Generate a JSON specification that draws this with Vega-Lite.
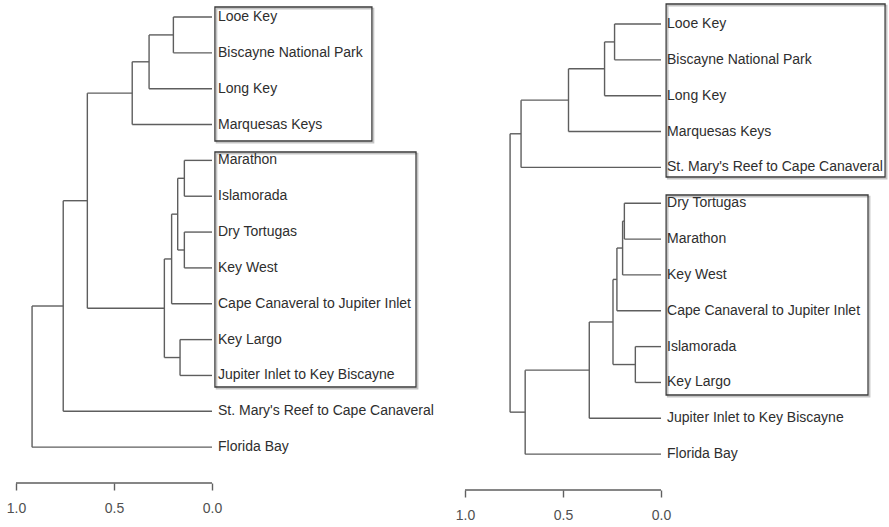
{
  "$schema": "https://vega.github.io/schema/vega-lite/v6.json",
  "padding": 0,
  "autosize": {"type": "pad"},
  "spacing": 9,
  "background": "white",
  "config": {
    "view": {"stroke": null},
    "font": "Liberation Sans",
    "axis": {"labelFont": "Liberation Sans", "labelFontSize": 14, "labelColor": "#505050", "tickColor": "#606060", "tickWidth": 1.4, "tickSize": 7, "labelPadding": 11, "domain": false, "grid": false, "title": null}
  },
  "datasets": {
    "left_segments": [
      {"x": 0.197, "x2": 0.197, "y": 1, "y2": 2}, {"x": 0, "x2": 0.197, "y": 1, "y2": 1}, {"x": 0, "x2": 0.197, "y": 2, "y2": 2},
      {"x": 0.321, "x2": 0.321, "y": 1.5, "y2": 3}, {"x": 0.197, "x2": 0.321, "y": 1.5, "y2": 1.5}, {"x": 0, "x2": 0.321, "y": 3, "y2": 3},
      {"x": 0.407, "x2": 0.407, "y": 2.25, "y2": 4}, {"x": 0.321, "x2": 0.407, "y": 2.25, "y2": 2.25}, {"x": 0, "x2": 0.407, "y": 4, "y2": 4},
      {"x": 0.141, "x2": 0.141, "y": 5, "y2": 6}, {"x": 0, "x2": 0.141, "y": 5, "y2": 5}, {"x": 0, "x2": 0.141, "y": 6, "y2": 6},
      {"x": 0.141, "x2": 0.141, "y": 7, "y2": 8}, {"x": 0, "x2": 0.141, "y": 7, "y2": 7}, {"x": 0, "x2": 0.141, "y": 8, "y2": 8},
      {"x": 0.175, "x2": 0.175, "y": 5.5, "y2": 7.5}, {"x": 0.141, "x2": 0.175, "y": 5.5, "y2": 5.5}, {"x": 0.141, "x2": 0.175, "y": 7.5, "y2": 7.5},
      {"x": 0.206, "x2": 0.206, "y": 6.5, "y2": 9}, {"x": 0.175, "x2": 0.206, "y": 6.5, "y2": 6.5}, {"x": 0, "x2": 0.206, "y": 9, "y2": 9},
      {"x": 0.163, "x2": 0.163, "y": 10, "y2": 11}, {"x": 0, "x2": 0.163, "y": 10, "y2": 10}, {"x": 0, "x2": 0.163, "y": 11, "y2": 11},
      {"x": 0.243, "x2": 0.243, "y": 7.75, "y2": 10.5}, {"x": 0.206, "x2": 0.243, "y": 7.75, "y2": 7.75}, {"x": 0.163, "x2": 0.243, "y": 10.5, "y2": 10.5},
      {"x": 0.636, "x2": 0.636, "y": 3.125, "y2": 9.125}, {"x": 0.407, "x2": 0.636, "y": 3.125, "y2": 3.125}, {"x": 0.243, "x2": 0.636, "y": 9.125, "y2": 9.125},
      {"x": 0.759, "x2": 0.759, "y": 6.125, "y2": 12}, {"x": 0.636, "x2": 0.759, "y": 6.125, "y2": 6.125}, {"x": 0, "x2": 0.759, "y": 12, "y2": 12},
      {"x": 0.918, "x2": 0.918, "y": 9.0625, "y2": 13}, {"x": 0.759, "x2": 0.918, "y": 9.0625, "y2": 9.0625}, {"x": 0, "x2": 0.918, "y": 13, "y2": 13}
    ],
    "right_segments": [
      {"x": 0.237, "x2": 0.237, "y": 1, "y2": 2}, {"x": 0, "x2": 0.237, "y": 1, "y2": 1}, {"x": 0, "x2": 0.237, "y": 2, "y2": 2},
      {"x": 0.288, "x2": 0.288, "y": 1.5, "y2": 3}, {"x": 0.237, "x2": 0.288, "y": 1.5, "y2": 1.5}, {"x": 0, "x2": 0.288, "y": 3, "y2": 3},
      {"x": 0.472, "x2": 0.472, "y": 2.25, "y2": 4}, {"x": 0.288, "x2": 0.472, "y": 2.25, "y2": 2.25}, {"x": 0, "x2": 0.472, "y": 4, "y2": 4},
      {"x": 0.714, "x2": 0.714, "y": 3.125, "y2": 5}, {"x": 0.472, "x2": 0.714, "y": 3.125, "y2": 3.125}, {"x": 0, "x2": 0.714, "y": 5, "y2": 5},
      {"x": 0.187, "x2": 0.187, "y": 6, "y2": 7}, {"x": 0, "x2": 0.187, "y": 6, "y2": 6}, {"x": 0, "x2": 0.187, "y": 7, "y2": 7},
      {"x": 0.196, "x2": 0.196, "y": 6.5, "y2": 8}, {"x": 0.187, "x2": 0.196, "y": 6.5, "y2": 6.5}, {"x": 0, "x2": 0.196, "y": 8, "y2": 8},
      {"x": 0.225, "x2": 0.225, "y": 7.25, "y2": 9}, {"x": 0.196, "x2": 0.225, "y": 7.25, "y2": 7.25}, {"x": 0, "x2": 0.225, "y": 9, "y2": 9},
      {"x": 0.131, "x2": 0.131, "y": 10, "y2": 11}, {"x": 0, "x2": 0.131, "y": 10, "y2": 10}, {"x": 0, "x2": 0.131, "y": 11, "y2": 11},
      {"x": 0.245, "x2": 0.245, "y": 8.125, "y2": 10.5}, {"x": 0.225, "x2": 0.245, "y": 8.125, "y2": 8.125}, {"x": 0.131, "x2": 0.245, "y": 10.5, "y2": 10.5},
      {"x": 0.366, "x2": 0.366, "y": 9.3125, "y2": 12}, {"x": 0.245, "x2": 0.366, "y": 9.3125, "y2": 9.3125}, {"x": 0, "x2": 0.366, "y": 12, "y2": 12},
      {"x": 0.693, "x2": 0.693, "y": 10.65625, "y2": 13}, {"x": 0.366, "x2": 0.693, "y": 10.65625, "y2": 10.65625}, {"x": 0, "x2": 0.693, "y": 13, "y2": 13},
      {"x": 0.77, "x2": 0.77, "y": 4.0625, "y2": 11.828125}, {"x": 0.714, "x2": 0.77, "y": 4.0625, "y2": 4.0625}, {"x": 0.693, "x2": 0.77, "y": 11.828125, "y2": 11.828125}
    ],
    "left_leaves": [
      {"label": "Looe Key", "pos": 1}, {"label": "Biscayne National Park", "pos": 2}, {"label": "Long Key", "pos": 3},
      {"label": "Marquesas Keys", "pos": 4}, {"label": "Marathon", "pos": 5}, {"label": "Islamorada", "pos": 6},
      {"label": "Dry Tortugas", "pos": 7}, {"label": "Key West", "pos": 8}, {"label": "Cape Canaveral to Jupiter Inlet", "pos": 9},
      {"label": "Key Largo", "pos": 10}, {"label": "Jupiter Inlet to Key Biscayne", "pos": 11},
      {"label": "St. Mary's Reef to Cape Canaveral", "pos": 12}, {"label": "Florida Bay", "pos": 13}
    ],
    "right_leaves": [
      {"label": "Looe Key", "pos": 1}, {"label": "Biscayne National Park", "pos": 2}, {"label": "Long Key", "pos": 3},
      {"label": "Marquesas Keys", "pos": 4}, {"label": "St. Mary's Reef to Cape Canaveral", "pos": 5}, {"label": "Dry Tortugas", "pos": 6},
      {"label": "Marathon", "pos": 7}, {"label": "Key West", "pos": 8}, {"label": "Cape Canaveral to Jupiter Inlet", "pos": 9},
      {"label": "Islamorada", "pos": 10}, {"label": "Key Largo", "pos": 11},
      {"label": "Jupiter Inlet to Key Biscayne", "pos": 12}, {"label": "Florida Bay", "pos": 13}
    ],
    "left_boxes": [
      {"x": -0.015, "x2": -0.816, "y": 0.721, "y2": 4.459},
      {"x": -0.015, "x2": -1.041, "y": 4.766, "y2": 11.322}
    ],
    "right_boxes": [
      {"x": -0.026, "x2": -1.143, "y": 0.442, "y2": 5.268},
      {"x": -0.026, "x2": -1.056, "y": 5.77, "y2": 11.35}
    ],
    "scale_bar": [{"x": 1, "x2": 0, "y": 14}]
  },
  "hconcat": [
    {
      "width": 440,
      "height": 483,
      "layer": [
        {
          "data": {"name": "left_segments"},
          "mark": {"type": "rule", "color": "#5e5e5e", "strokeWidth": 1.4},
          "encoding": {
            "x": {"field": "x", "type": "quantitative", "scale": {"domain": [-1.1633, 1.0816], "reverse": true, "nice": false, "zero": false}, "axis": {"values": [1, 0.5, 0], "format": ".1f"}},
            "x2": {"field": "x2"},
            "y": {"field": "y", "type": "quantitative", "scale": {"domain": [0.526, 14], "reverse": true, "nice": false, "zero": false}, "axis": null},
            "y2": {"field": "y2"}
          }
        },
        {
          "data": {"name": "scale_bar"},
          "mark": {"type": "rule", "color": "#5e5e5e", "strokeWidth": 1.4},
          "encoding": {
            "x": {"field": "x", "type": "quantitative"},
            "x2": {"field": "x2"},
            "y": {"field": "y", "type": "quantitative"}
          }
        },
        {
          "data": {"name": "left_boxes"},
          "mark": {"type": "rect", "fill": null, "stroke": "#c4c4c4", "strokeWidth": 1.6, "xOffset": 1.6, "x2Offset": 1.6, "yOffset": 1.6, "y2Offset": 1.6},
          "encoding": {
            "x": {"field": "x", "type": "quantitative"},
            "x2": {"field": "x2"},
            "y": {"field": "y", "type": "quantitative"},
            "y2": {"field": "y2"}
          }
        },
        {
          "data": {"name": "left_boxes"},
          "mark": {"type": "rect", "fill": null, "stroke": "#3a3a3a", "strokeWidth": 1.3},
          "encoding": {
            "x": {"field": "x", "type": "quantitative"},
            "x2": {"field": "x2"},
            "y": {"field": "y", "type": "quantitative"},
            "y2": {"field": "y2"}
          }
        },
        {
          "data": {"name": "left_leaves"},
          "mark": {"type": "text", "align": "left", "baseline": "middle", "dx": 6, "fontSize": 14, "font": "Liberation Sans", "color": "#2e2e2e"},
          "encoding": {
            "x": {"datum": 0, "type": "quantitative"},
            "y": {"field": "pos", "type": "quantitative"},
            "text": {"field": "label"}
          }
        }
      ]
    },
    {
      "width": 440,
      "height": 490,
      "layer": [
        {
          "data": {"name": "right_segments"},
          "mark": {"type": "rule", "color": "#5e5e5e", "strokeWidth": 1.4},
          "encoding": {
            "x": {"field": "x", "type": "quantitative", "scale": {"domain": [-1.163, 1.0816], "reverse": true, "nice": false, "zero": false}, "axis": {"values": [1, 0.5, 0], "format": ".1f"}},
            "x2": {"field": "x2"},
            "y": {"field": "y", "type": "quantitative", "scale": {"domain": [0.3305, 14], "reverse": true, "nice": false, "zero": false}, "axis": null},
            "y2": {"field": "y2"}
          }
        },
        {
          "data": {"name": "scale_bar"},
          "mark": {"type": "rule", "color": "#5e5e5e", "strokeWidth": 1.4},
          "encoding": {
            "x": {"field": "x", "type": "quantitative"},
            "x2": {"field": "x2"},
            "y": {"field": "y", "type": "quantitative"}
          }
        },
        {
          "data": {"name": "right_boxes"},
          "mark": {"type": "rect", "fill": null, "stroke": "#c4c4c4", "strokeWidth": 1.6, "xOffset": 1.6, "x2Offset": 1.6, "yOffset": 1.6, "y2Offset": 1.6},
          "encoding": {
            "x": {"field": "x", "type": "quantitative"},
            "x2": {"field": "x2"},
            "y": {"field": "y", "type": "quantitative"},
            "y2": {"field": "y2"}
          }
        },
        {
          "data": {"name": "right_boxes"},
          "mark": {"type": "rect", "fill": null, "stroke": "#3a3a3a", "strokeWidth": 1.3},
          "encoding": {
            "x": {"field": "x", "type": "quantitative"},
            "x2": {"field": "x2"},
            "y": {"field": "y", "type": "quantitative"},
            "y2": {"field": "y2"}
          }
        },
        {
          "data": {"name": "right_leaves"},
          "mark": {"type": "text", "align": "left", "baseline": "middle", "dx": 6, "fontSize": 14, "font": "Liberation Sans", "color": "#2e2e2e"},
          "encoding": {
            "x": {"datum": 0, "type": "quantitative"},
            "y": {"field": "pos", "type": "quantitative"},
            "text": {"field": "label"}
          }
        }
      ]
    }
  ]
}
